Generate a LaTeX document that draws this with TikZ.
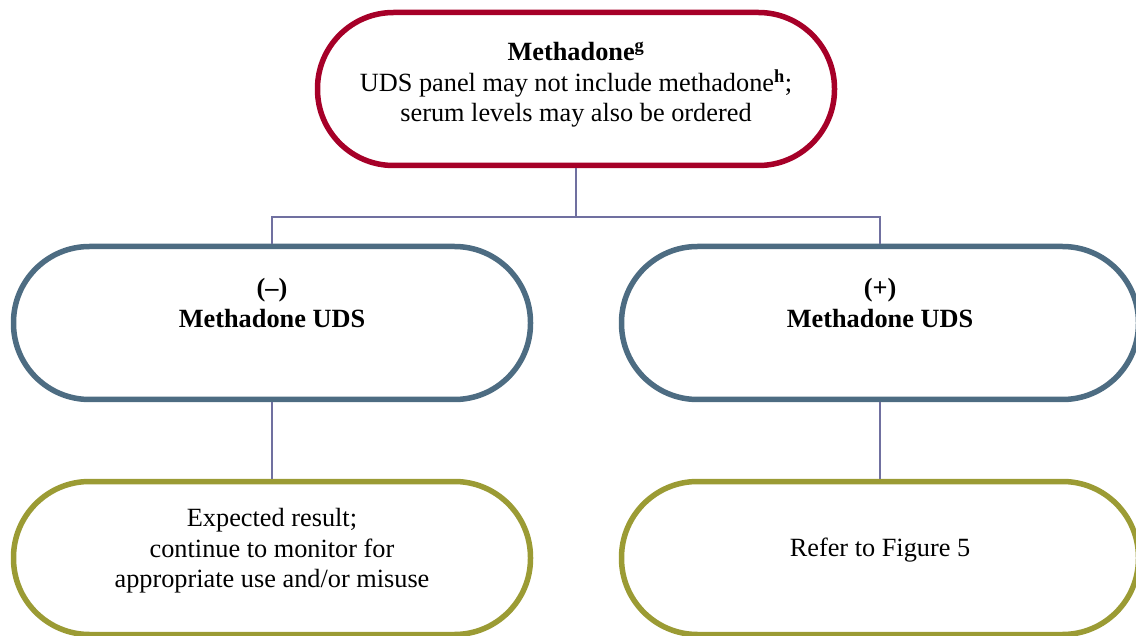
\documentclass[tikz,border=0pt]{standalone}
\usepackage{fontspec}
\setmainfont{Liberation Serif}
\definecolor{redc}{RGB}{166,0,40}
\definecolor{bluec}{RGB}{77,108,130}
\definecolor{olivec}{RGB}{155,155,52}
\definecolor{connc}{RGB}{112,112,160}
\begin{document}
\begin{tikzpicture}[x=1pt,y=-1pt,
  pill/.style={draw, line width=5.5pt, rounded corners=76pt, minimum width=517pt, minimum height=153pt, inner sep=0pt, fill=white},
  txt/.style={align=center, font=\fontsize{26.3}{30.5}\selectfont, inner sep=0pt},
  conn/.style={draw=connc, line width=1.8pt}]
\useasboundingbox (0,0) rectangle (1136,636);
% shapes
\node[pill, draw=redc] (top) at (576,89) {};
\node[pill, draw=bluec] (neg) at (272,323) {};
\node[pill, draw=bluec] (pos) at (880,323) {};
\node[pill, draw=olivec] (exp) at (272,558) {};
\node[pill, draw=olivec] (ref) at (880,558) {};
% texts
\node[txt] (toptxt) at (576,85) {\textbf{Methadone\textsuperscript{g}}\\ UDS panel may not include methadone\textsuperscript{\textbf{h}};\\ serum levels may also be ordered};
\node[txt] (negtxt) at (272,303) {\textbf{(–)}\\ \textbf{Methadone UDS}};
\node[txt] (postxt) at (880,303) {\textbf{(+)}\\ \textbf{Methadone UDS}};
\node[txt] (exptxt) at (272,551) {Expected result;\\ continue to monitor for\\ appropriate use and/or misuse};
\node[txt] (reftxt) at (880,550) {Refer to Figure 5};
% connectors
\coordinate (j) at (576,217);
\draw[conn] (top.south) -- (j);
\draw[conn] (neg.north) |- (j) -| (pos.north);
\draw[conn] (neg.south) -- (exp.north);
\draw[conn] (pos.south) -- (ref.north);
\end{tikzpicture}
\end{document}
